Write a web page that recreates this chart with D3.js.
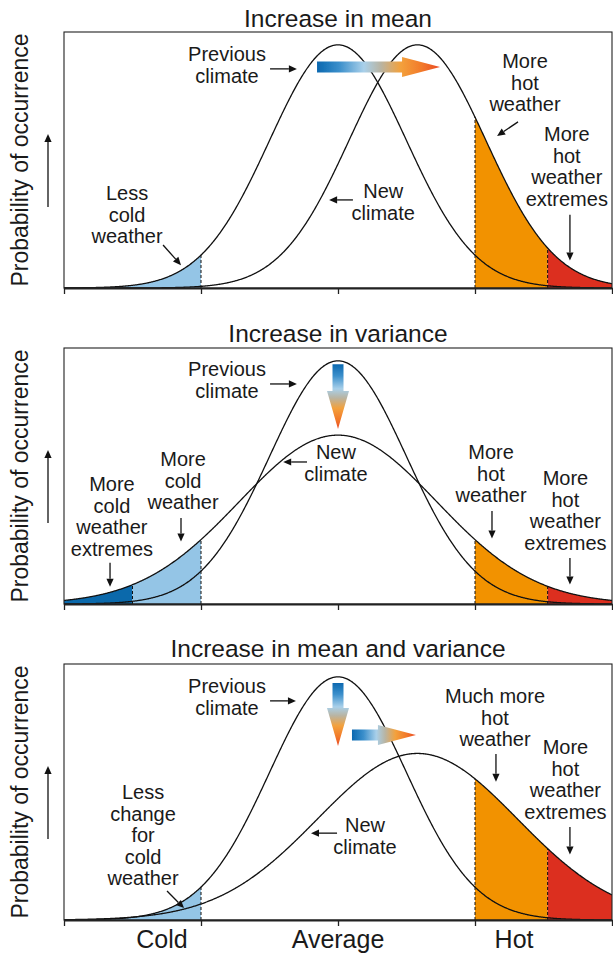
<!DOCTYPE html>
<html><head><meta charset="utf-8">
<script src="https://cdn.jsdelivr.net/npm/d3@7"></script>
<style>
body{margin:0;background:#fff}
svg{display:block}
text{font-family:"Liberation Sans",Arial,Helvetica,sans-serif;fill:#1a1a1a}
</style>
</head><body>
<svg id="c" width="613" height="953"></svg>
<script>
// ---------------- data ----------------
const panelTitles = ["Increase in mean", "Increase in variance", "Increase in mean and variance"];
const categories = ["Cold", "Average", "Hot"];
const categoryPositions = [-1.285, 0, 1.285];
const tickValues = [-2, -1, 0, 1, 2];
const prevMean = [0, 0, 0];
const prevSd = [0.5, 0.5, 0.5];
const newMean = [0.58, 0, 0.58];
const newSd = [0.5, 0.72, 0.73];
const coldThreshold = -1;
const coldExtremeThreshold = -1.5;
const hotThreshold = 1;
const hotExtremeThreshold = 1.53;
const showColdExtreme = [false, true, false];
const yLabel = "Probability of occurrence";

// annotations in data units: text lines, anchor (x, y of first baseline), arrow [x1,y1,x2,y2]
const annotations1 = [
  {lines: ["Previous", "climate"], x: -0.81, y: 0.745, arrow: [-0.496, 0.719, -0.300, 0.719]},
  {lines: ["Less", "cold", "weather"], x: -1.54, y: 0.289, arrow: [-1.277, 0.141, -1.146, 0.075]},
  {lines: ["New", "climate"], x: 0.33, y: 0.295, arrow: [0.109, 0.289, -0.065, 0.289]},
  {lines: ["More", "hot", "weather"], x: 1.365, y: 0.722, arrow: [1.314, 0.545, 1.161, 0.499]},
  {lines: ["More", "hot", "weather", "extremes"], x: 1.67, y: 0.482, arrow: [1.693, 0.240, 1.693, 0.090]}
];
const annotations2 = [
  {lines: ["Previous", "climate"], x: -0.81, y: 0.748, arrow: [-0.496, 0.722, -0.300, 0.722]},
  {lines: ["New", "climate"], x: -0.015, y: 0.476, arrow: [-0.226, 0.466, -0.400, 0.466]},
  {lines: ["More", "cold", "weather"], x: -1.131, y: 0.453, arrow: [-1.146, 0.282, -1.146, 0.205]},
  {lines: ["More", "cold", "weather", "extremes"], x: -1.65, y: 0.371, arrow: [-1.664, 0.135, -1.664, 0.057]},
  {lines: ["More", "hot", "weather"], x: 1.117, y: 0.476, arrow: [1.124, 0.305, 1.124, 0.215]},
  {lines: ["More", "hot", "weather", "extremes"], x: 1.66, y: 0.390, arrow: [1.693, 0.151, 1.693, 0.064]}
];
const annotations3 = [
  {lines: ["Previous", "climate"], x: -0.81, y: 0.745, arrow: [-0.496, 0.719, -0.307, 0.719]},
  {lines: ["Much more", "hot", "weather"], x: 1.146, y: 0.712, arrow: [1.153, 0.545, 1.153, 0.454]},
  {lines: ["More", "hot", "weather", "extremes"], x: 1.66, y: 0.545, arrow: [1.693, 0.305, 1.693, 0.215]},
  {lines: ["New", "climate"], x: 0.197, y: 0.289, arrow: [-0.007, 0.285, -0.197, 0.285]},
  {lines: ["Less", "change", "for", "cold", "weather"], x: -1.423, y: 0.397, arrow: [-1.248, 0.095, -1.124, 0.039]}
];
const annotations = [annotations1, annotations2, annotations3];

// gradient shift arrows in data units [x1,y1,x2,y2]
const shiftArrows1 = [[-0.153, 0.725, 0.745, 0.725]];
const shiftArrows2 = [[0, 0.787, 0, 0.574]];
const shiftArrows3 = [[0, 0.778, 0, 0.571], [0.102, 0.607, 0.569, 0.607]];
const shiftArrows = [shiftArrows1, shiftArrows2, shiftArrows3];

// ---------------- layout ----------------
const svg = d3.select("#c");
const left = 64, right = 612;
const panelTops = [32, 348, 664];
const panelH = 256;
const titleBaselines = [27, 342, 657];
const lineGap = 21.6;

const x = d3.scaleLinear().domain([-2, 2]).range([left, right]);
const pdf = (v, m, s) => Math.exp(-((v - m) * (v - m)) / (2 * s * s)) / (s * Math.sqrt(2 * Math.PI));

const defs = svg.append("defs");
const colors = {cold: "#94c5e6", coldExt: "#0b69ab", hot: "#f29200", hotExt: "#dc2f1f"};

let gradId = 0;
function shiftArrow(g, ax, ay, bx, by, headHalf) {
  const dx = bx - ax, dy = by - ay;
  const L = Math.hypot(dx, dy);
  const ang = Math.atan2(dy, dx) * 180 / Math.PI;
  const s = 5.5, hl = 38, hh = headHalf;
  const id = "sg" + (gradId++);
  const gr = defs.append("linearGradient").attr("id", id)
    .attr("gradientUnits", "userSpaceOnUse")
    .attr("x1", ax).attr("y1", ay).attr("x2", bx).attr("y2", by);
  [[0, "#0b68b0"], [0.18, "#3b8fcb"], [0.38, "#a9d0ea"], [0.52, "#b9b4a2"], [0.68, "#f3a13c"], [0.85, "#f27a2a"], [1, "#ea4a25"]]
    .forEach(([o, c]) => gr.append("stop").attr("offset", o).attr("stop-color", c));
  const pts = [[0, -s], [L - hl, -s], [L - hl, -hh], [L, 0], [L - hl, hh], [L - hl, s], [0, s]];
  const rad = Math.atan2(dy, dx);
  const p = pts.map(([u, v]) => [ax + u * Math.cos(rad) - v * Math.sin(rad), ay + u * Math.sin(rad) + v * Math.cos(rad)]);
  g.append("path").attr("d", "M" + p.map(q => q.join(",")).join("L") + "Z")
    .attr("fill", "url(#" + id + ")").attr("filter", "url(#soft)");
}
defs.append("filter").attr("id", "soft").attr("x", "-20%").attr("y", "-20%").attr("width", "140%").attr("height", "140%")
  .append("feGaussianBlur").attr("stdDeviation", 0.5);

function pointer(g, x1, y1, x2, y2) {
  const ang = Math.atan2(y2 - y1, x2 - x1);
  const hl = 8, hw = 3.6;
  const bx = x2 - hl * Math.cos(ang), by = y2 - hl * Math.sin(ang);
  g.append("line").attr("x1", x1).attr("y1", y1).attr("x2", bx).attr("y2", by)
    .attr("stroke", "#111").attr("stroke-width", 1.3);
  const px = -Math.sin(ang) * hw, py = Math.cos(ang) * hw;
  g.append("path").attr("d", `M${x2},${y2}L${bx + px},${by + py}L${bx - px},${by - py}Z`).attr("fill", "#111");
}

panelTitles.forEach((title, i) => {
  const top = panelTops[i], base = top + panelH;
  const y = d3.scaleLinear().domain([0, 0.84]).range([base, top]);
  const g = svg.append("g");
  const clipId = "clip" + i;
  defs.append("clipPath").attr("id", clipId).append("rect")
    .attr("x", left).attr("y", top).attr("width", right - left).attr("height", panelH);

  // title
  g.append("text").attr("x", x(0)).attr("y", titleBaselines[i]).attr("text-anchor", "middle")
    .attr("font-size", 24.5).text(title);

  // y label + up arrow
  const cy = (top + base) / 2;
  g.append("text").attr("transform", `translate(28,${cy}) rotate(-90)`).attr("text-anchor", "middle")
    .attr("font-size", 23).text(yLabel);
  pointer(g, 48, cy + 47, 48, cy - 26);

  const prevF = v => pdf(v, prevMean[i], prevSd[i]);
  const newF = v => pdf(v, newMean[i], newSd[i]);
  const upper = v => Math.max(prevF(v), newF(v));
  const xs = d3.range(-2, 2.0001, 0.005);

  const plot = g.append("g").attr("clip-path", `url(#${clipId})`);
  const area = d3.area().x(d => x(d)).y0(y(0)).y1(d => y(upper(d)));
  const band = (a, b) => xs.filter(v => v >= a - 1e-9 && v <= b + 1e-9).concat([a, b]).sort((p, q) => p - q);

  if (showColdExtreme[i]) {
    plot.append("path").datum(band(-2, coldExtremeThreshold)).attr("d", area).attr("fill", colors.coldExt);
    plot.append("path").datum(band(coldExtremeThreshold, coldThreshold)).attr("d", area).attr("fill", colors.cold);
  } else {
    plot.append("path").datum(band(-2, coldThreshold)).attr("d", area).attr("fill", colors.cold);
  }
  plot.append("path").datum(band(hotThreshold, hotExtremeThreshold)).attr("d", area).attr("fill", colors.hot);
  plot.append("path").datum(band(hotExtremeThreshold, 2)).attr("d", area).attr("fill", colors.hotExt);

  // dashed threshold lines
  const dashXs = [coldThreshold, hotThreshold, hotExtremeThreshold].concat(showColdExtreme[i] ? [coldExtremeThreshold] : []);
  dashXs.forEach(t => {
    plot.append("line").attr("x1", x(t)).attr("x2", x(t)).attr("y1", y(0)).attr("y2", y(upper(t)))
      .attr("stroke", "#111").attr("stroke-width", 1).attr("stroke-dasharray", "3,2");
  });

  // curves
  const line = f => d3.line().x(d => x(d)).y(d => y(f(d)));
  plot.append("path").datum(xs).attr("d", line(prevF)).attr("fill", "none").attr("stroke", "#111").attr("stroke-width", 1.3);
  plot.append("path").datum(xs).attr("d", line(newF)).attr("fill", "none").attr("stroke", "#111").attr("stroke-width", 1.3);

  // box
  g.append("rect").attr("x", left).attr("y", top).attr("width", right - left).attr("height", panelH)
    .attr("fill", "none").attr("stroke", "#222").attr("stroke-width", 1.1);

  // axis
  const ax = g.append("g").attr("transform", `translate(0,${base})`)
    .call(d3.axisBottom(x).tickValues(tickValues).tickSize(6).tickSizeOuter(0).tickFormat(""));
  ax.select(".domain").attr("stroke", "#222").attr("stroke-width", 1.8);
  ax.selectAll(".tick line").attr("stroke", "#222").attr("stroke-width", 1.3);

  // shift arrows
  shiftArrows[i].forEach(([a1, b1, a2, b2]) => {
    const horizontal = b1 === b2;
    shiftArrow(g, x(a1), y(b1), x(a2), y(b2), horizontal ? 10 : 11);
  });

  // annotations
  annotations[i].forEach(a => {
    const t = g.append("text").attr("text-anchor", "middle").attr("font-size", 20);
    a.lines.forEach((ln, k) => {
      t.append("tspan").attr("x", x(a.x)).attr("y", y(a.y) + k * lineGap).text(ln);
    });
    pointer(g, x(a.arrow[0]), y(a.arrow[1]), x(a.arrow[2]), y(a.arrow[3]));
  });

  if (i === 2) {
    categories.forEach((c, k) => {
      g.append("text").attr("x", x(categoryPositions[k])).attr("y", 948).attr("text-anchor", "middle")
        .attr("font-size", 25).text(c);
    });
  }
});
</script>
</body></html>
